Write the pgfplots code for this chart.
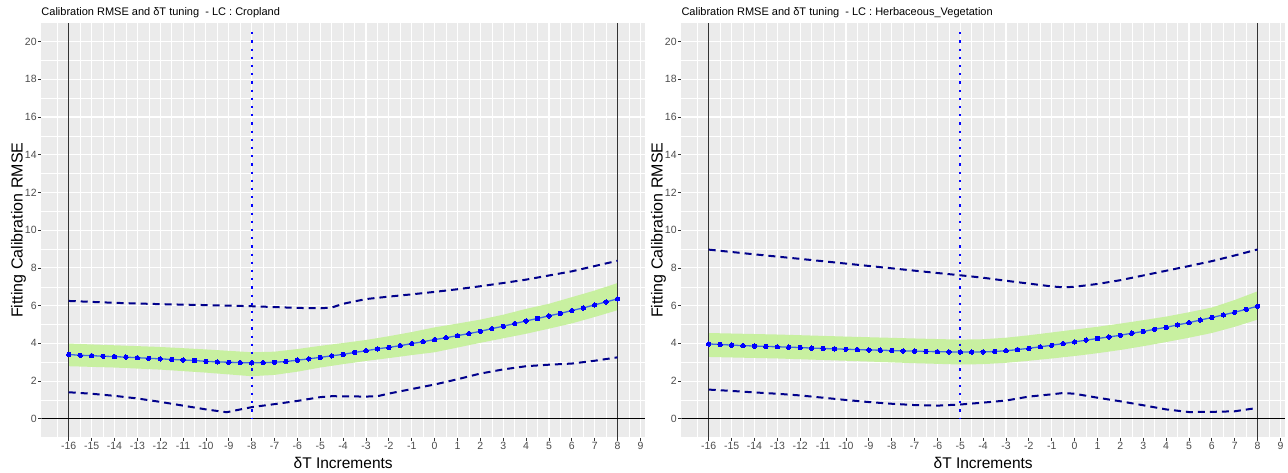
\documentclass[border=0pt]{standalone}
\usepackage{fontspec}
\setmainfont{Liberation Sans}
\usepackage{pgfplots}
\usepackage{pgfplotstable}
\pgfplotsset{compat=1.18}
\definecolor{panelbg}{HTML}{EBEBEB}
\definecolor{bandgreen}{RGB}{200,240,160}
\definecolor{ticklab}{HTML}{4D4D4D}
\definecolor{tickcol}{HTML}{333333}
\definecolor{dashblue}{RGB}{0,0,139}
\definecolor{lineblue}{RGB}{65,105,225}

\pgfplotstableread{
x y
-16 3.41
-15.5 3.37
-15 3.35
-14.5 3.32
-14 3.30
-13.5 3.27
-13 3.24
-12.5 3.21
-12 3.18
-11.5 3.15
-11 3.12
-10.5 3.09
-10 3.05
-9.5 3.02
-9 3.00
-8.5 2.98
-8 2.97
-7.5 2.98
-7 3.00
-6.5 3.04
-6 3.11
-5.5 3.18
-5 3.26
-4.5 3.34
-4 3.42
-3.5 3.52
-3 3.61
-2.5 3.71
-2 3.79
-1.5 3.88
-1 3.99
-0.5 4.09
0 4.20
0.5 4.30
1 4.41
1.5 4.52
2 4.64
2.5 4.78
3 4.91
3.5 5.05
4 5.19
4.5 5.32
5 5.46
5.5 5.59
6 5.74
6.5 5.88
7 6.04
7.5 6.20
8 6.36
}\cropmean

\pgfplotstableread{
x y
-16 3.97
-15.5 3.94
-15 3.91
-14.5 3.88
-14 3.86
-13.5 3.84
-13 3.82
-12.5 3.80
-12 3.78
-11.5 3.75
-11 3.73
-10.5 3.71
-10 3.69
-9.5 3.67
-9 3.65
-8.5 3.64
-8 3.62
-7.5 3.60
-7 3.59
-6.5 3.57
-6 3.56
-5.5 3.55
-5 3.54
-4.5 3.54
-4 3.55
-3.5 3.57
-3 3.61
-2.5 3.67
-2 3.74
-1.5 3.82
-1 3.90
-0.5 3.99
0 4.08
0.5 4.17
1 4.26
1.5 4.34
2 4.43
2.5 4.54
3 4.63
3.5 4.75
4 4.85
4.5 4.98
5 5.10
5.5 5.24
6 5.37
6.5 5.51
7 5.65
7.5 5.81
8 5.97
}\herbmean

\pgfplotsset{gg/.style={
  scale only axis, width=603.7pt, height=415pt,
  xmin=-17.2, xmax=9.2, ymin=-1, ymax=21,
  axis background/.style={fill=panelbg},
  axis line style={draw=none},
  xtick={-16,...,9}, ytick={0,2,...,20},
  minor xtick={-16.5,-15.5,...,8.5}, minor ytick={-1,1,...,21},
  grid=both,
  major grid style={draw=white, line width=1.1pt},
  minor grid style={draw=white, line width=0.55pt},
  tick align=outside, xtick pos=bottom, ytick pos=left,
  major tick length=3pt, minor tick length=0pt,
  tick style={draw=tickcol, line width=0.8pt},
  tick label style={font=\fontsize{10.5}{12}\selectfont, text=ticklab, inner sep=1.5pt},
  /pgf/number format/assume math mode=true,
  title style={at={(axis description cs:0,1.0024)}, anchor=base west, font=\fontsize{11}{13}\selectfont, inner sep=0pt},
  xlabel style={at={(axis description cs:0.5,-0.0742)}, anchor=base, font=\fontsize{15.5}{18}\selectfont, inner sep=0pt},
  ylabel style={at={(axis description cs:-0.0308,0.5)}, anchor=base, rotate=0, font=\fontsize{16}{19}\selectfont, inner sep=0pt},
  xlabel={δT Increments}, ylabel={Fitting Calibration RMSE},
  clip=true,
}}

\begin{document}
\begin{tikzpicture}
\useasboundingbox (0pt,0pt) rectangle (1288pt,472pt);

% ---------------- Left panel: Cropland
\begin{axis}[gg, at={(41.3pt,34.3pt)}, anchor=south west,
  title={Calibration RMSE and δT tuning\ \ - LC : Cropland}]
\addplot[fill=bandgreen, draw=none] coordinates {
 (-16,3.99)(-14,3.90)(-12,3.81)(-10,3.68)(-8,3.53)(-7,3.56)(-6,3.70)(-5,3.87)(-4,4.02)(-3,4.18)(-2,4.38)(-1,4.60)(0,4.85)(1,5.05)(2,5.26)(3,5.52)(4,5.83)(5,6.10)(6,6.45)(7,6.80)(8,7.20)
 (8,5.76)(7,5.40)(6,5.06)(5,4.78)(4,4.51)(3,4.27)(2,4.03)(1,3.78)(0,3.53)(-1,3.38)(-2,3.22)(-3,3.07)(-4,2.90)(-5,2.72)(-6,2.50)(-7,2.33)(-8,2.26)(-10,2.45)(-12,2.61)(-14,2.72)(-16,2.79)
} -- cycle;
\addplot[tickcol, line width=1pt] coordinates {(-16,-1) (-16,21)};
\addplot[tickcol, line width=1pt] coordinates {(8,-1) (8,21)};
\addplot[black, line width=1.2pt] coordinates {(-17.2,0) (9.2,0)};
\addplot[dashblue, line width=2pt, dash pattern=on 7pt off 5pt] coordinates {
 (-16,6.25)(-14,6.15)(-12,6.08)(-10,6.03)(-8,5.97)(-6,5.88)(-5,5.86)(-4.5,5.90)(-4,6.10)(-3,6.35)(-2,6.48)(-1,6.60)(0,6.73)(1,6.87)(2,7.03)(3,7.20)(4,7.38)(5,7.60)(6,7.82)(7,8.10)(8,8.38)};
\addplot[dashblue, line width=2pt, dash pattern=on 7pt off 5pt] coordinates {
 (-16,1.41)(-15,1.33)(-14,1.22)(-13,1.08)(-12,0.90)(-11,0.70)(-10,0.50)(-9.1,0.35)(-8,0.62)(-7,0.78)(-6,0.95)(-5,1.15)(-4.5,1.20)(-3,1.18)(-2.5,1.20)(-2,1.34)(-1,1.58)(0,1.82)(1,2.10)(2,2.40)(3,2.62)(4,2.79)(5,2.87)(6,2.93)(7,3.08)(8,3.26)};
\addplot[lineblue, line width=1.3pt, mark=*, mark size=2.2pt, mark options={fill=blue, draw=blue, line width=0pt}] table[x=x, y=y] {\cropmean};
\addplot[blue, line width=2.2pt, dash pattern=on 2.2pt off 6pt] coordinates {(-8,20.5) (-8,0)};
\end{axis}

% ---------------- Right panel: Herbaceous vegetation
\begin{axis}[gg, at={(681.3pt,34.3pt)}, anchor=south west,
  title={Calibration RMSE and δT tuning\ \ - LC : Herbaceous\_Vegetation}]
\addplot[fill=bandgreen, draw=none] coordinates {
 (-16,4.55)(-13,4.47)(-10,4.36)(-7,4.26)(-5,4.20)(-4,4.22)(-3,4.30)(-2,4.43)(-1,4.58)(0,4.73)(1,4.88)(2,5.05)(3,5.23)(4,5.42)(5,5.65)(6,5.90)(7,6.30)(8,6.76)
 (8,5.26)(7,4.88)(6,4.55)(5,4.30)(4,4.07)(3,3.85)(2,3.65)(1,3.48)(0,3.33)(-1,3.20)(-2,3.08)(-3,2.97)(-4,2.90)(-5,2.88)(-7,2.95)(-10,3.08)(-13,3.20)(-16,3.28)
} -- cycle;
\addplot[tickcol, line width=1pt] coordinates {(-16,-1) (-16,21)};
\addplot[tickcol, line width=1pt] coordinates {(8,-1) (8,21)};
\addplot[black, line width=1.2pt] coordinates {(-17.2,0) (9.2,0)};
\addplot[dashblue, line width=2pt, dash pattern=on 7pt off 5pt] coordinates {
 (-16,8.97)(-14,8.72)(-12,8.48)(-10,8.23)(-8,7.98)(-6,7.73)(-5,7.61)(-4,7.48)(-3,7.32)(-2,7.17)(-1,7.02)(-0.5,6.97)(0,7.00)(1,7.15)(2,7.35)(3,7.60)(4,7.85)(5,8.10)(6,8.36)(7,8.66)(8,8.98)};
\addplot[dashblue, line width=2pt, dash pattern=on 7pt off 5pt] coordinates {
 (-16,1.55)(-15,1.48)(-14,1.40)(-13,1.33)(-12,1.24)(-11,1.12)(-10,1.00)(-9,0.89)(-8,0.80)(-7,0.73)(-6,0.70)(-5,0.76)(-4,0.86)(-3,0.97)(-2,1.18)(-1,1.30)(-0.5,1.37)(0,1.33)(1,1.12)(2,0.93)(3,0.72)(4,0.50)(5,0.36)(6,0.37)(7,0.40)(8,0.58)};
\addplot[lineblue, line width=1.3pt, mark=*, mark size=2.2pt, mark options={fill=blue, draw=blue, line width=0pt}] table[x=x, y=y] {\herbmean};
\addplot[blue, line width=2.2pt, dash pattern=on 2.2pt off 6pt] coordinates {(-5,20.5) (-5,0)};
\end{axis}
\end{tikzpicture}
\end{document}
